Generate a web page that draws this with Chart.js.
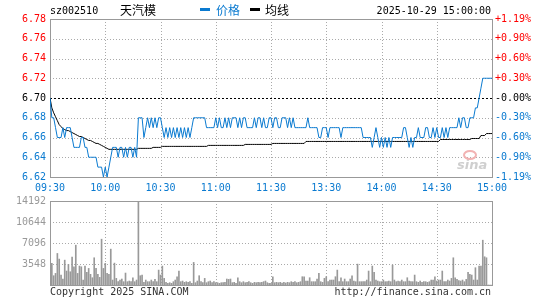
<!DOCTYPE html>
<html>
<head>
<meta charset="utf-8">
<script src="https://cdn.jsdelivr.net/npm/chart.js@4.4.0/dist/chart.umd.min.js"></script>
<style>
html,body{margin:0;padding:0;background:#fff;}
#wrap{position:relative;width:545px;height:300px;overflow:hidden;font-family:"DejaVu Sans Mono",monospace;font-size:10px;color:#000;}
canvas{position:absolute;left:0;}
.t{position:absolute;white-space:nowrap;line-height:12px;height:12px;}
.cjk{font-family:"Noto Sans CJK SC","Noto Sans",sans-serif;font-size:12px;}
.dash{position:absolute;width:10px;height:3px;}
</style>
</head>
<body>
<div id="wrap">
  <canvas id="c1" width="545" height="200" style="top:0"></canvas>
  <canvas id="c2" width="545" height="110" style="top:190px"></canvas>
  <div class="t" style="left:50px;top:5px;">sz002510</div>
  <div class="t cjk" style="left:120px;top:4px;">天汽模</div>
  <div class="dash" style="left:200px;top:8px;background:#0a7ad0;"></div>
  <div class="t cjk" style="left:216px;top:4px;color:#0a7ad0;">价格</div>
  <div class="dash" style="left:250px;top:8px;background:#000;"></div>
  <div class="t cjk" style="left:265px;top:4px;">均线</div>
  <div class="t" style="right:54px;top:5px;">2025-10-29 15:00:00</div>
  <div class="t" style="left:50px;top:286px;color:#333;">Copyright 2025 SINA.COM</div>
  <div class="t" style="right:54px;top:286px;color:#333;">http://finance.sina.com.cn</div>
</div>
<script>
// ---- data ----
const prevClose = 6.70;
const timeTicks = ['09:30','10:00','10:30','11:00','11:30','13:30','14:00','14:30','15:00'];
const priceTicks = ['6.62','6.64','6.66','6.68','6.70','6.72','6.74','6.76','6.78'];
const pctTicks = ['-1.19%','-0.90%','-0.60%','-0.30%','-0.00%','+0.30%','+0.60%','+0.90%','+1.19%'];
const volTicks = ['','3548','7096','10644','14192'];

const price = [
6.70,6.68,6.68,6.67,6.66,6.66,6.66,6.67,6.66,6.67,
6.67,6.67,6.66,6.65,6.65,6.65,6.65,6.66,6.66,6.65,
6.65,6.64,6.64,6.64,6.64,6.64,6.63,6.63,6.63,6.62,
6.63,6.62,6.63,6.64,6.65,6.65,6.65,6.64,6.65,6.65,
6.64,6.65,6.64,6.65,6.65,6.64,6.65,6.64,6.68,6.68,
6.68,6.66,6.67,6.68,6.67,6.68,6.67,6.68,6.67,6.68,
6.68,6.67,6.66,6.67,6.66,6.67,6.66,6.67,6.66,6.67,
6.66,6.67,6.66,6.67,6.66,6.67,6.66,6.67,6.68,6.68,
6.68,6.68,6.68,6.68,6.68,6.67,6.67,6.67,6.67,6.67,
6.68,6.67,6.68,6.67,6.67,6.68,6.67,6.68,6.67,6.68,
6.68,6.68,6.67,6.68,6.67,6.68,6.68,6.67,6.67,6.67,
6.67,6.68,6.67,6.68,6.68,6.67,6.68,6.67,6.67,6.68,
6.68,6.67,6.68,6.68,6.67,6.67,6.68,6.68,6.68,6.67,
6.68,6.67,6.68,6.67,6.67,6.67,6.67,6.67,6.67,6.67,
6.68,6.67,6.67,6.67,6.67,6.67,6.66,6.66,6.67,6.67,
6.67,6.66,6.67,6.67,6.67,6.67,6.67,6.67,6.66,6.67,
6.67,6.67,6.67,6.67,6.67,6.67,6.67,6.67,6.67,6.67,
6.66,6.66,6.66,6.66,6.66,6.65,6.66,6.67,6.66,6.65,
6.66,6.65,6.66,6.65,6.66,6.65,6.66,6.66,6.66,6.66,
6.66,6.66,6.67,6.67,6.66,6.65,6.66,6.65,6.66,6.66,
6.67,6.66,6.66,6.66,6.67,6.67,6.66,6.66,6.67,6.66,
6.67,6.66,6.66,6.67,6.66,6.67,6.66,6.67,6.67,6.67,
6.67,6.67,6.68,6.67,6.68,6.68,6.67,6.67,6.68,6.68,
6.68,6.69,6.69,6.70,6.71,6.72,6.72,6.72,6.72,6.72,
6.72
];

const avg = [
6.700,6.690,6.685,6.681,6.677,6.673,6.671,6.669,6.668,6.667,
6.667,6.666,6.665,6.664,6.663,6.662,6.661,6.661,6.660,6.659,
6.658,6.657,6.657,6.656,6.655,6.654,6.654,6.653,6.652,6.651,
6.650,6.649,6.648,6.648,6.648,6.648,6.648,6.648,6.648,6.648,
6.648,6.648,6.648,6.648,6.648,6.648,6.648,6.648,6.649,6.649,
6.649,6.649,6.649,6.649,6.649,6.649,6.650,6.650,6.650,6.650,
6.650,6.651,6.651,6.651,6.651,6.651,6.651,6.651,6.651,6.651,
6.651,6.651,6.651,6.651,6.651,6.651,6.651,6.651,6.651,6.651,
6.651,6.651,6.651,6.651,6.651,6.651,6.652,6.652,6.652,6.652,
6.652,6.652,6.652,6.652,6.652,6.652,6.652,6.652,6.652,6.652,
6.652,6.652,6.652,6.652,6.652,6.652,6.653,6.653,6.653,6.653,
6.653,6.653,6.653,6.653,6.653,6.653,6.653,6.653,6.653,6.653,
6.653,6.654,6.654,6.654,6.654,6.654,6.654,6.654,6.654,6.654,
6.654,6.654,6.654,6.654,6.654,6.654,6.654,6.654,6.654,6.656,
6.656,6.656,6.656,6.656,6.656,6.656,6.656,6.656,6.656,6.656,
6.656,6.656,6.656,6.656,6.656,6.656,6.656,6.656,6.656,6.656,
6.656,6.656,6.656,6.656,6.656,6.656,6.656,6.656,6.656,6.656,
6.656,6.656,6.656,6.656,6.656,6.656,6.656,6.656,6.656,6.656,
6.656,6.656,6.656,6.656,6.656,6.656,6.656,6.656,6.656,6.656,
6.656,6.656,6.656,6.656,6.656,6.656,6.656,6.656,6.656,6.656,
6.656,6.656,6.656,6.656,6.656,6.656,6.656,6.656,6.656,6.656,
6.656,6.656,6.658,6.658,6.658,6.658,6.658,6.658,6.658,6.658,
6.658,6.658,6.658,6.658,6.658,6.658,6.658,6.658,6.658,6.659,
6.659,6.659,6.659,6.659,6.662,6.662,6.662,6.664,6.664,6.664,
6.664
];

const volume = [
680,3650,1570,1960,5330,4380,1680,1010,4200,2360,
3480,2240,4710,3080,6730,1960,3200,3080,840,3200,
2130,2800,1800,1230,4600,2800,1800,1290,7740,2800,
3650,1960,1800,6060,840,3700,1120,560,840,1010,
560,2020,560,670,560,1230,560,840,14192,1570,
1680,450,840,560,560,840,560,950,560,2520,
1680,3200,1120,450,280,390,280,560,840,1400,
2360,560,670,450,560,450,560,280,3815,390,
670,1570,560,390,1120,390,560,670,390,560,
390,390,280,390,390,450,1010,950,1010,390,
450,280,1230,560,390,560,390,450,560,390,
280,450,390,450,390,450,560,670,390,280,
280,1400,390,450,390,450,340,450,340,450,
390,560,450,560,390,450,560,1400,1400,670,
670,1230,560,560,560,1010,1960,560,450,1120,
1400,560,840,840,840,1400,2520,560,1230,560,
1010,560,560,1010,1570,670,560,3530,560,560,
560,560,840,2360,560,3200,2130,840,670,560,
560,840,560,560,670,560,3370,840,560,670,
560,840,560,560,1230,670,560,560,1680,560,
450,670,450,560,560,450,560,840,840,1400,
670,840,840,2360,560,560,840,670,1120,4600,
1230,950,730,670,840,560,950,2130,1800,1680,
840,2920,840,3200,3200,7570,4770,4600,0,0,
0
];

// ---- styles ----
const BLUE = '#0a7ad0';
const RED = '#ff0000';
const FONT = {family:'"DejaVu Sans Mono", monospace', size:10};

const framePlugin = {
  id: 'frame',
  beforeDatasetsDraw(chart, args, opts) {
    const {ctx, chartArea:a, scales} = chart;
    const xs = scales.x, ys = scales.y;
    ctx.save();
    ctx.lineWidth = 1;
    ctx.strokeStyle = '#aaaaaa';
    ctx.setLineDash([1,2]);
    for (let k = 1; k < timeTicks.length - 1; k++) {
      const x = Math.round(xs.getPixelForValue(k * 30)) + 0.5;
      ctx.beginPath(); ctx.moveTo(x, a.top); ctx.lineTo(x, a.bottom); ctx.stroke();
    }
    ys.ticks.forEach(t => {
      if (t.value <= ys.min + 1e-9 || t.value >= ys.max - 1e-9) return;
      if (opts.ref !== undefined && Math.abs(t.value - opts.ref) < 1e-6) return;
      const y = Math.round(ys.getPixelForValue(t.value)) + 0.5;
      ctx.beginPath(); ctx.moveTo(a.left, y); ctx.lineTo(a.right, y); ctx.stroke();
    });
    if (opts.ref !== undefined) {
      const y = Math.round(ys.getPixelForValue(opts.ref)) + 0.5;
      ctx.strokeStyle = '#000';
      ctx.setLineDash([2,2]);
      ctx.lineWidth = 1;
      ctx.beginPath(); ctx.moveTo(a.left, y); ctx.lineTo(a.right, y); ctx.stroke();
    }
    if (opts.logo) {
      ctx.setLineDash([]);
      ctx.fillStyle = '#cfcfcf';
      ctx.font = 'italic bold 13px "DejaVu Sans", sans-serif';
      ctx.textBaseline = 'alphabetic';
      ctx.fillText('sina', a.right - 35, a.bottom - 8);
      ctx.strokeStyle = '#f2b3b3';
      ctx.lineWidth = 2;
      ctx.beginPath(); ctx.ellipse(a.right - 22, a.bottom - 22, 6, 4, 0, 0, Math.PI * 2); ctx.stroke();
    }
    ctx.setLineDash([]);
    ctx.lineWidth = 1;
    ctx.strokeStyle = '#999999';
    ctx.strokeRect(Math.round(a.left) + 0.5, Math.round(a.top) + 0.5, Math.round(a.right - a.left), Math.round(a.bottom - a.top));
    ctx.restore();
  }
};

function sideColor(i) { return i < 4 ? BLUE : (i === 4 ? '#000' : RED); }

new Chart(document.getElementById('c1'), {
  type: 'line',
  data: {
    datasets: [
      {label:'价格', data: price.map((v,i)=>({x:i,y:v})), borderColor:BLUE, borderWidth:1, pointRadius:0, tension:0, yAxisID:'y'},
      {label:'均线', data: avg.map((v,i)=>({x:i,y:v})), borderColor:'#000', borderWidth:1, pointRadius:0, tension:0, yAxisID:'y'}
    ]
  },
  options: {
    responsive:false, animation:false, events:[],
    layout:{padding:{top:19,left:0,right:0,bottom:0}},
    plugins:{legend:{display:false}, tooltip:{enabled:false}, frame:{ref:prevClose, logo:true}},
    scales:{
      x:{type:'linear', min:0, max:240, position:'bottom',
         grid:{display:false, drawTicks:false}, border:{display:false},
         ticks:{stepSize:30, autoSkip:false, maxRotation:0, padding:5, color:BLUE, font:FONT,
                callback:(v)=>timeTicks[Math.round(v/30)]},
         afterFit(s){ s.height = 23; }},
      y:{type:'linear', position:'left', min:6.62, max:6.78,
         grid:{display:false, drawTicks:false}, border:{display:false},
         ticks:{stepSize:0.02, padding:4, font:FONT, color:(c)=>sideColor(c.index),
                callback:(v,i)=>priceTicks[i]},
         afterFit(s){ s.width = 50; }},
      y2:{type:'linear', position:'right', min:6.62, max:6.78,
         grid:{display:false, drawTicks:false}, border:{display:false},
         ticks:{stepSize:0.02, padding:3, font:FONT, color:(c)=>sideColor(c.index),
                callback:(v,i)=>pctTicks[i]},
         afterFit(s){ s.width = 53; }}
    }
  },
  plugins:[framePlugin]
});

new Chart(document.getElementById('c2'), {
  type: 'bar',
  data: {
    datasets: [
      {label:'成交量', data: volume.map((v,i)=>({x:i,y:v})), backgroundColor:'#999999', borderWidth:0, barThickness:1}
    ]
  },
  options: {
    responsive:false, animation:false, events:[],
    layout:{padding:{top:11,left:0,right:53,bottom:15}},
    plugins:{legend:{display:false}, tooltip:{enabled:false}, frame:{}},
    scales:{
      x:{type:'linear', min:0, max:240, offset:false, display:false, grid:{offset:false}, ticks:{stepSize:30}},
      y:{type:'linear', position:'left', min:0, max:14192,
         grid:{display:false, drawTicks:false}, border:{display:false},
         ticks:{stepSize:3548, padding:4, font:FONT, color:'#999999',
                callback:(v,i)=>volTicks[i]},
         afterFit(s){ s.width = 50; }}
    }
  },
  plugins:[framePlugin]
});
</script>
</body>
</html>
